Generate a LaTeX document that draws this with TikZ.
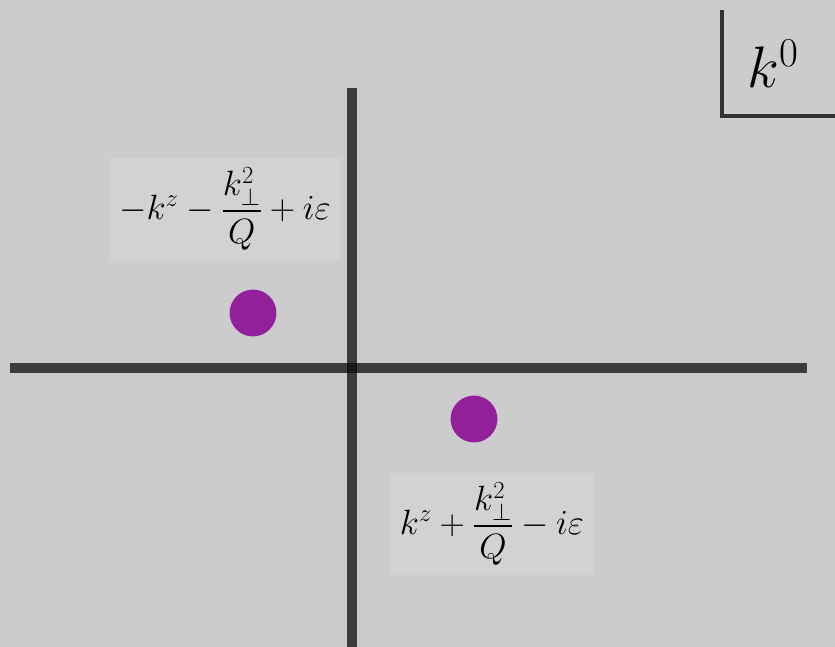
\RequirePackage{fix-cm}
\documentclass[tikz,border=0pt]{standalone}
\usepackage{amsmath,amssymb}
\usepackage{tikz}
\usetikzlibrary{positioning}
\definecolor{bgray}{HTML}{CCCCCC}
\definecolor{lblgray}{HTML}{D2D2D2}
\definecolor{axgray}{HTML}{0C0C0C}
\definecolor{polecol}{HTML}{93209B}
\tikzset{
	axis/.style={axgray,opacity=0.75,line width=8.5pt},
	pole/.style={circle,fill=polecol,minimum size=40pt,inner sep=0pt},
	polelabel/.style={fill=lblgray,inner xsep=8pt,inner ysep=8pt,font=\fontsize{30}{36}\selectfont}
}
\begin{document}
\begin{tikzpicture}[x=0.03cm,y=-0.03cm]
	
	% background
	\fill[bgray] (0,0) rectangle (835,647);
	\useasboundingbox (0,0) rectangle (835,647);
	
	% labels of the poles
	\node[polelabel] (uplabel) at (225,209) {$-k^z-\dfrac{k_\perp^2}{Q}+i\varepsilon$};
	\node[polelabel] (lolabel) at (492,524) {$k^z+\dfrac{k_\perp^2}{Q}-i\varepsilon$};
	
	% axes
	\coordinate (vtop) at (352,88);
	\coordinate (vbot) at (352,647);
	\coordinate (hleft) at (10,368);
	\coordinate (hright) at (807,368);
	\draw[axis] (vtop) -- (vbot);
	\draw[axis] (hleft) -- (hright);
	
	% poles
	\node[pole] (uppole) at (253,313) {};
	\node[pole] (lopole) at (474,419) {};
	
	% k^0 corner
	\coordinate (ctop) at (722,10);
	\coordinate (ccorner) at (722,116);
	\coordinate (cright) at (835,116);
	\draw[axgray,opacity=0.8,line width=3.8pt] (ctop) -- (ccorner) -- (cright);
	\node[font=\fontsize{50}{60}\selectfont] (kzero) at (773,64) {$k^0$};
	
\end{tikzpicture}
\end{document}
